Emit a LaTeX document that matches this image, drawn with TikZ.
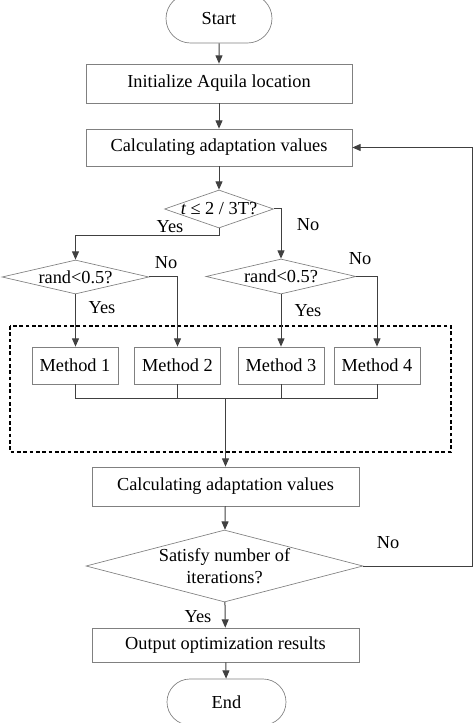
\documentclass[tikz,border=0pt]{standalone}
\usepackage{fontspec}
\setmainfont{Liberation Serif}
\usetikzlibrary{shapes.misc, shapes.geometric, arrows.meta, positioning, calc}
\definecolor{boxgray}{RGB}{128, 128, 128}
\definecolor{linegray}{RGB}{64, 64, 64}
\tikzset{
  procbox/.style={draw=boxgray, fill=white, rectangle, inner sep=0pt, font=\fontsize{11}{13}\selectfont},
  termbox/.style={draw=boxgray, fill=white, rounded rectangle, inner sep=0pt, font=\fontsize{11}{13}\selectfont},
  decbox/.style={draw=boxgray, diamond, inner sep=0pt, label={[font=\fontsize{11}{13}\selectfont, align=center]center:#1}},
  lbl/.style={font=\fontsize{11}{13}\selectfont, inner sep=0pt},
  conn/.style={draw=linegray, line width=0.6pt},
  arr/.style={conn, -{Triangle[length=5pt, width=4.2pt]}},
  groupbox/.style={draw=black, line width=1.4pt, dash pattern=on 2.2pt off 1.6pt}
}

\begin{document}
\begin{tikzpicture}[x=0.6pt, y=-0.6pt]
  \useasboundingbox (0,0) rectangle (474,723);

  % Top of the chart
  \node[termbox, minimum width=63.6pt, minimum height=29.4pt] (start) at (219, 18.5) {Start};
  \node[procbox, minimum width=159.6pt, minimum height=23.4pt] (init) at (219, 83.5) {Initialize Aquila location};
  \node[procbox, minimum width=159.6pt, minimum height=22.2pt] (calc) at (219, 147.5) {Calculating adaptation values};

  % Decisions
  \node[decbox={{\itshape t} ≤ 2 / 3T?}, minimum width=65.4pt, minimum height=22.8pt] (tcheck) at (219, 209) {};
  \node[decbox={rand<0.5?}, minimum width=88.2pt, minimum height=20.4pt] (randl) at (75.5, 277) {};
  \node[decbox={rand<0.5?}, minimum width=90pt, minimum height=21pt] (randr) at (281, 276.5) {};

  % Methods
  \node[procbox, minimum width=51.6pt, minimum height=22.2pt] (m1) at (75, 365.5) {Method 1};
  \node[procbox, minimum width=51.6pt, minimum height=22.2pt] (m2) at (177.5, 365.5) {Method 2};
  \node[procbox, minimum width=51.6pt, minimum height=22.2pt] (m3) at (281, 365.5) {Method 3};
  \node[procbox, minimum width=51.6pt, minimum height=22.2pt] (m4) at (377, 365.5) {Method 4};

  % Dashed group
  \draw[groupbox] (10, 326) rectangle (451, 452);

  % Bottom of the chart
  \node[procbox, minimum width=160.2pt, minimum height=23.4pt] (calcb) at (225.5, 486.5) {Calculating adaptation values};
  \node[decbox={Satisfy number of\\iterations?}, minimum width=166.2pt, minimum height=43.2pt] (iter) at (224.5, 566) {};
  \node[procbox, minimum width=160.2pt, minimum height=20.4pt] (output) at (225.5, 645) {Output optimization results};
  \node[termbox, minimum width=71.4pt, minimum height=27.6pt] (stop) at (226.5, 702) {End};

  \coordinate (join) at (225.5, 398);
  \coordinate (back) at (472.5, 566);

  % Connectors
  \draw[arr] (start) -- (init);
  \draw[arr] (init) -- (calc);
  \draw[arr] (calc) -- (tcheck);
  \draw[arr] (tcheck.south) -- ++(0, 7) -| (randl.north);
  \draw[arr] (tcheck.east) -| (randr.north);
  \draw[arr] (randl.south) -- (randl.south |- m1.north);
  \draw[arr] (randl.east) -| (m2.north);
  \draw[arr] (randr.south) -- (randr.south |- m3.north);
  \draw[arr] (randr.east) -| (m4.north);
  \draw[conn] (m1.south) |- (m4.south |- join) -- (m4.south);
  \draw[conn] (m2.south) -- (m2.south |- join);
  \draw[conn] (m3.south) -- (m3.south |- join);
  \draw[arr] (join) -- (calcb.north);
  \draw[arr] (calcb) -- (iter);
  \draw[arr] (iter) -- (output);
  \draw[arr] (output) -- (stop);
  \draw[arr] (iter.east) -- (back) |- (calc.east);

  % Branch labels
  \node[lbl] (yes1) at (170, 227) {Yes};
  \node[lbl] (no1) at (308, 225) {No};
  \node[lbl] (no2) at (166, 263) {No};
  \node[lbl] (yes2) at (102, 308) {Yes};
  \node[lbl] (no3) at (360, 259) {No};
  \node[lbl] (yes3) at (308, 311) {Yes};
  \node[lbl] (no4) at (388, 543) {No};
  \node[lbl] (yes4) at (198, 617) {Yes};
\end{tikzpicture}
\end{document}
